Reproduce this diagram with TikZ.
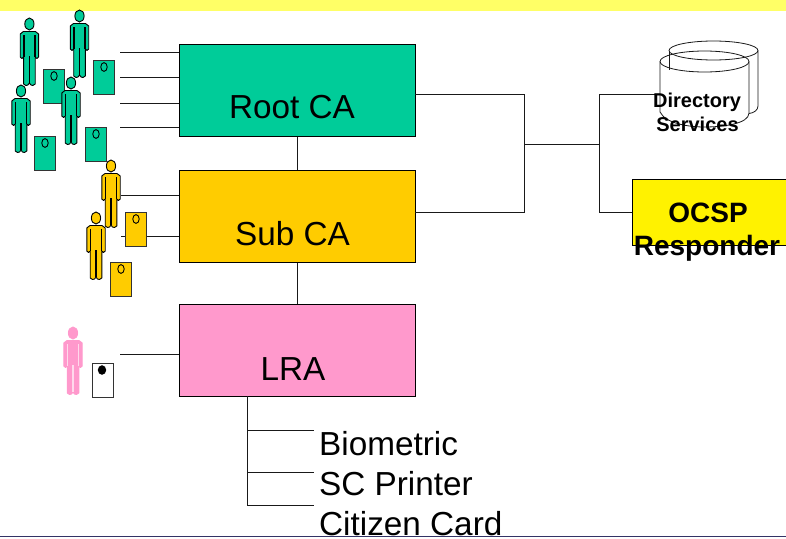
\documentclass[tikz,border=0pt]{standalone}
\usepackage{fontspec}
\setmainfont{Liberation Sans}
\definecolor{tealc}{HTML}{00CC99}
\definecolor{orangec}{HTML}{FFCC00}
\definecolor{pinkc}{HTML}{FF99CC}
\definecolor{pinkgap}{HTML}{FFD9EC}
\definecolor{bandc}{HTML}{FFFF66}
\definecolor{rulec}{HTML}{333366}
\tikzset{
  x=1pt,y=-1pt,
  box/.style={draw=black,line width=0.9pt,minimum width=235.5pt,minimum height=92pt,inner sep=0pt,anchor=north west},
  big/.style={font=\fontsize{33.3}{33.3}\selectfont,anchor=base,inner sep=0pt},
  item/.style={font=\fontsize{33.3}{33.3}\selectfont,anchor=base west,inner sep=0pt},
  link/.style={draw=black!90,line width=1pt},
  card/.style={draw=black!80,line width=1pt,minimum width=21pt,minimum height=34pt,inner sep=0pt,anchor=north west},
  pics/person/.style n args={3}{code={
    \fill[#1] (0,0) ellipse[x radius=4.6,y radius=6];
    \draw[#2,line width=0.9pt] (0,0) ellipse[x radius=4.6,y radius=6];
    \draw[#2,line width=0.9pt,fill=#1,line join=round]
      (-6,7.5) -- (6,7.5) -- (9.2,10) -- (9.2,33) -- (7.5,34.5) -- (5.8,33)
      -- (5.8,60) -- (3.5,61.5) -- (1.5,61) -- (0,59) -- (-1.5,61) -- (-3.5,61.5) -- (-5.8,60)
      -- (-5.8,33) -- (-7.5,34.5) -- (-9.2,33) -- (-9.2,10) -- cycle;
    \draw[#3,line width=1.4pt] (-5.5,11) -- (-5.5,33) (5.5,11) -- (5.5,33) (0,32) -- (0,59);
  }},
  pics/cardmark/.style={code={\draw[black,line width=0.9pt] (0,0) ellipse[x radius=3.2,y radius=4.4];}}
}
\begin{document}
\begin{tikzpicture}
\useasboundingbox (0,0) rectangle (786,538);
\fill[bandc] (0,0) rectangle (786,11);
\draw[rulec,line width=0.9pt] (0,536.5) -- (786,536.5);

% boxes
\node[box,fill=tealc] (root) at (179,44) {};
\node[box,fill=orangec] (sub) at (179,170) {};
\node[box,fill=pinkc] (lra) at (179,304) {};
\node[draw=black,line width=0.9pt,fill=yellow,minimum width=154pt,minimum height=66pt,inner sep=0pt,anchor=north west] (ocsp) at (632,179) {};

% free ends
\foreach \n/\x/\y in {a1/120/52,a2/120/77,a3/120/103,a4/120/127,o1/121/195,o2/121/236,l1/120/354,
   rr/415/94,sr/415/212,j1/524/94,j2/524/212,j3/524/144,j4/599/144,j5/599/94,j6/599/212,dir/660/94,oc/632/212,
   t0/247/396,t1/247/430,t2/247/472,t3/247/505,b1/314/430,b2/314/472,b3/314/505} {
  \coordinate (\n) at (\x,\y);
}

% connectors
\draw[link] (a1) -- (a1-|root.west) (a2) -- (a2-|root.west) (a3) -- (a3-|root.west) (a4) -- (a4-|root.west);
\draw[link] (o1) -- (o1-|sub.west) (o2) -- (o2-|sub.west);
\draw[link] (l1) -- (l1-|lra.west);
\draw[link] (root.south) -- (sub.north);
\draw[link] (sub.south) -- (lra.north);
\draw[link] (rr) -- (j1) -- (j2) -- (sr);
\draw[link] (j3) -- (j4);
\draw[link] (j5) -- (j6);
\draw[link] (j5) -- (dir);
\draw[link] (j6) -- (oc);
\draw[link] (t0) -- (t3) -- (b3);
\draw[link] (t1) -- (b1);
\draw[link] (t2) -- (b2);

% cards
\foreach \n/\x/\y/\mx/\my/\c in {c1/43/68.5/54/76/tealc,c2/93/60/104/67/tealc,c3/34/136/45/143/tealc,c4/85/127/96/134/tealc,
    c5/125/212/136/219/orangec,c6/110/262/121/269/orangec} {
  \node[card,fill=\c] (\n) at (\x,\y) {};
  \pic at (\mx,\my) {cardmark};
}
\node[card,fill=white] (c7) at (92,363) {};
\fill[black] (102,370) ellipse[x radius=4.2,y radius=4.8];

% people
\pic (p1) at (29.4,24) {person={tealc}{black}{black}};
\pic (p2) at (79.5,16) {person={tealc}{black}{black}};
\pic (p3) at (21,91) {person={tealc}{black}{black}};
\pic (p4) at (71,83) {person={tealc}{black}{black}};
\pic (p5) at (111,166) {person={orangec}{black}{black}};
\pic (p6) at (96,218) {person={orangec}{black}{black}};
\pic (p7) at (73,333) {person={pinkc}{pinkc}{pinkgap}};

% directory cylinders
\draw[black!90,line width=0.8pt] (713.5,50.5) ellipse[x radius=44.5,y radius=9.5];
\draw[black!90,line width=0.8pt] (669,50.5) -- (669,70);
\draw[black!90,line width=0.8pt] (758,50.5) -- (758,106) .. controls (758,110) and (754,113) .. (749,113.5);
\draw[black!90,line width=0.8pt] (704.5,61.5) ellipse[x radius=44.5,y radius=10.5];
\draw[black!90,line width=0.8pt] (660,61.5) -- (660,112) .. controls (666,124) and (690,127) .. (704.5,127)
   .. controls (722,127) and (749,124) .. (749,113) -- (749,61.5);

% labels
\node[big] (troot) at (292,118) {Root CA};
\node[big] (tsub) at (292.5,245) {Sub CA};
\node[big] (tlra) at (293,380) {LRA};
\node[font=\bfseries\fontsize{20}{20}\selectfont,anchor=base,inner sep=0pt] (tdir) at (697,107) {Directory};
\node[font=\bfseries\fontsize{20}{20}\selectfont,anchor=base,inner sep=0pt] (tser) at (697.5,131.5) {Services};
\node[font=\bfseries\fontsize{28}{28}\selectfont,anchor=base,inner sep=0pt] (tocsp) at (708,222) {OCSP};
\node[font=\bfseries\fontsize{28}{28}\selectfont,anchor=base,inner sep=0pt] (tresp) at (707,255) {Responder};
\node[item] (tbio) at (319,455) {Biometric};
\node[item] (tsc) at (319,495) {SC Printer};
\node[item] (tcit) at (319,535) {Citizen Card};
\end{tikzpicture}
\end{document}
